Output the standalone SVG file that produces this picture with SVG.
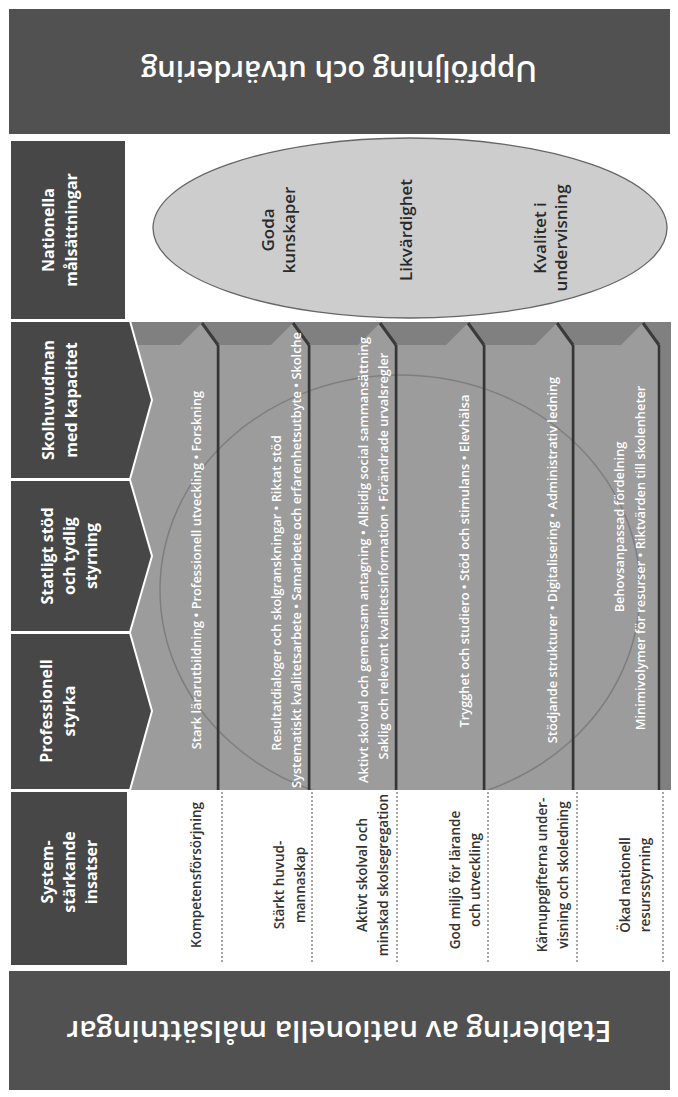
<svg xmlns="http://www.w3.org/2000/svg" width="678" height="1097" viewBox="0 0 678 1097">
<style>
.band{fill:#515151}
.hdr{fill:#474747;stroke:#ffffff;stroke-width:2}
.f{font-family:"Open Sans","Liberation Sans",sans-serif}
.bt{font-size:28px;font-weight:600;fill:#ffffff;text-anchor:middle}
.ht{font-size:16px;font-weight:700;fill:#ffffff;text-anchor:middle}
.rt{font-size:12.8px;font-weight:600;fill:#ffffff;text-anchor:middle}
.ct{font-size:13.5px;font-weight:600;fill:#333333;text-anchor:middle}
.gt{font-size:17px;font-weight:600;fill:#2a2a2a;text-anchor:middle}
.row{fill:#9c9c9c}
.sep{stroke:#353535;stroke-width:2.5}
.tip{stroke:#3a3a3a;stroke-width:3;fill:none}
.dot{stroke:#8a8a8a;stroke-width:1.5;stroke-dasharray:2 2}
</style>
<defs>
<clipPath id="bodyclip"><rect x="130" y="322" width="541" height="468"/></clipPath>
</defs>
<rect x="0" y="0" width="678" height="1097" fill="#ffffff"/>
<g id="uppfoljning">
<rect class="band" x="9" y="9" width="661" height="125"/>
<text class="f bt" transform="translate(339,71) rotate(180)" dy="0.35em" textLength="396" lengthAdjust="spacingAndGlyphs">Uppföljning och utvärdering</text>
</g>
<g id="etablering">
<rect class="band" x="9" y="971" width="661" height="119"/>
<text class="f bt" transform="translate(339,1031) rotate(180)" dy="0.35em" textLength="545" lengthAdjust="spacingAndGlyphs">Etablering av nationella målsättningar</text>
</g>
<g id="nationella-malsattningar">
<rect class="hdr" x="10" y="140" width="116" height="180"/>
<text class="f ht" transform="translate(0,230) rotate(-90)"><tspan x="0" y="54">Nationella</tspan><tspan x="0" y="77">målsättningar</tspan></text>
</g>
<g id="mal">
<ellipse cx="410" cy="228" rx="257" ry="90" fill="#cdcdcd" stroke="#666666" stroke-width="1.3"/>
<text class="f gt" transform="translate(0,230) rotate(-90)"><tspan x="0" y="274">Goda</tspan><tspan x="0" y="295">kunskaper</tspan></text>
<text class="f gt" transform="translate(0,230) rotate(-90)"><tspan x="0" y="412">Likvärdighet</tspan></text>
<text class="f gt" transform="translate(0,238) rotate(-90)"><tspan x="0" y="546">Kvalitet i</tspan><tspan x="0" y="567">undervisning</tspan></text>
</g>
<g id="insatser-body">
<rect x="130" y="322" width="541" height="468" fill="#808080"/>
<polygon class="row" points="131,790 131,345 180,345 202,323 217,345 217,790"/>
<polygon class="row" points="220,790 220,345 271,345 293,323 308,345 308,790"/>
<polygon class="row" points="311,790 311,345 358,345 380,323 395,345 395,790"/>
<polygon class="row" points="398,790 398,345 446,345 468,323 483,345 483,790"/>
<polygon class="row" points="486,790 486,345 535,345 557,323 572,345 572,790"/>
<polygon class="row" points="575,790 575,345 621,345 643,323 658,345 658,790"/>
<ellipse cx="400" cy="590" rx="240" ry="215" fill="none" stroke="#5a5a5a" stroke-width="1.5" opacity="0.45" clip-path="url(#bodyclip)"/>
<path class="tip" d="M202,323 L218,345 M293,323 L309,345 M380,323 L396,345 M468,323 L484,345 M557,323 L573,345 M643,323 L659,345"/>
<path class="sep" d="M218,345 V790 M309,345 V790 M396,345 V790 M484,345 V790 M573,345 V790 M659,345 V790"/>
</g>
<g id="skolhuvudman">
<polygon class="hdr" points="10,321 130,321 152,400 130,479 10,479"/>
<text class="f ht" transform="translate(0,400) rotate(-90)"><tspan x="0" y="54">Skolhuvudman</tspan><tspan x="0" y="77">med kapacitet</tspan></text>
</g>
<g id="statligt-stod">
<polygon class="hdr" points="10,480 130,480 152,556 130,632 10,632"/>
<text class="f ht" transform="translate(0,556) rotate(-90)"><tspan x="0" y="53">Statligt stöd</tspan><tspan x="0" y="75">och tydlig</tspan><tspan x="0" y="97">styrning</tspan></text>
</g>
<g id="professionell-styrka">
<polygon class="hdr" points="10,633 130,633 152,711 130,790 10,790"/>
<text class="f ht" transform="translate(0,711) rotate(-90)"><tspan x="0" y="52">Professionell</tspan><tspan x="0" y="75">styrka</tspan></text>
</g>
<g id="systemstarkande">
<rect class="hdr" x="10" y="791" width="118" height="175"/>
<text class="f ht" transform="translate(0,872) rotate(-90)"><tspan x="0" y="53">System-</tspan><tspan x="0" y="75">stärkande</tspan><tspan x="0" y="97">insatser</tspan></text>
</g>
<g id="rad-texter">
<text class="f rt" transform="translate(0,570) rotate(-90)"><tspan x="0" y="201">Stark lärarutbildning • Professionell utveckling • Forskning</tspan></text>
<text class="f rt" transform="translate(0,593) rotate(-90)"><tspan x="0" y="281">Resultatdialoger och skolgranskningar • Riktat stöd</tspan></text>
<text class="f rt" transform="translate(0,560) rotate(-90)"><tspan x="0" y="301">Systematiskt kvalitetsarbete • Samarbete och erfarenhetsutbyte • Skolche</tspan></text>
<text class="f rt" transform="translate(0,560) rotate(-90)"><tspan x="0" y="368">Aktivt skolval och gemensam antagning • Allsidig social sammansättning</tspan></text>
<text class="f rt" transform="translate(0,556) rotate(-90)"><tspan x="0" y="388">Saklig och relevant kvalitetsinformation • Förändrade urvalsregler</tspan></text>
<text class="f rt" transform="translate(0,561) rotate(-90)"><tspan x="0" y="469">Trygghet och studiero • Stöd och stimulans • Elevhälsa</tspan></text>
<text class="f rt" transform="translate(0,560) rotate(-90)"><tspan x="0" y="557">Stödjande strukturer • Digitalisering • Administrativ ledning</tspan></text>
<text class="f rt" transform="translate(0,527) rotate(-90)"><tspan x="0" y="624">Behovsanpassad fördelning</tspan></text>
<text class="f rt" transform="translate(0,558) rotate(-90)"><tspan x="0" y="645">Minimivolymer för resurser • Riktvärden till skolenheter</tspan></text>
</g>
<g id="omraden">
<path class="dot" d="M222,792 V962 M312,792 V962 M397,792 V962 M488,792 V962 M577,792 V962 M663,792 V962"/>
<text class="f ct" transform="translate(0,875) rotate(-90)"><tspan x="0" y="201">Kompetensförsörjning</tspan></text>
<text class="f ct" transform="translate(0,885) rotate(-90)"><tspan x="0" y="284">Stärkt huvud-</tspan><tspan x="0" y="305">mannaskap</tspan></text>
<text class="f ct" transform="translate(0,875) rotate(-90)"><tspan x="0" y="367">Aktivt skolval och</tspan><tspan x="0" y="388">minskad skolsegregation</tspan></text>
<text class="f ct" transform="translate(0,880) rotate(-90)"><tspan x="0" y="460">God miljö för lärande</tspan><tspan x="0" y="480">och utveckling</tspan></text>
<text class="f ct" transform="translate(0,875) rotate(-90)"><tspan x="0" y="547">Kärnuppgifterna under-</tspan><tspan x="0" y="568">visning och skoledning</tspan></text>
<text class="f ct" transform="translate(0,885) rotate(-90)"><tspan x="0" y="630">Ökad nationell</tspan><tspan x="0" y="650">resursstyrning</tspan></text>
</g>
</svg>
